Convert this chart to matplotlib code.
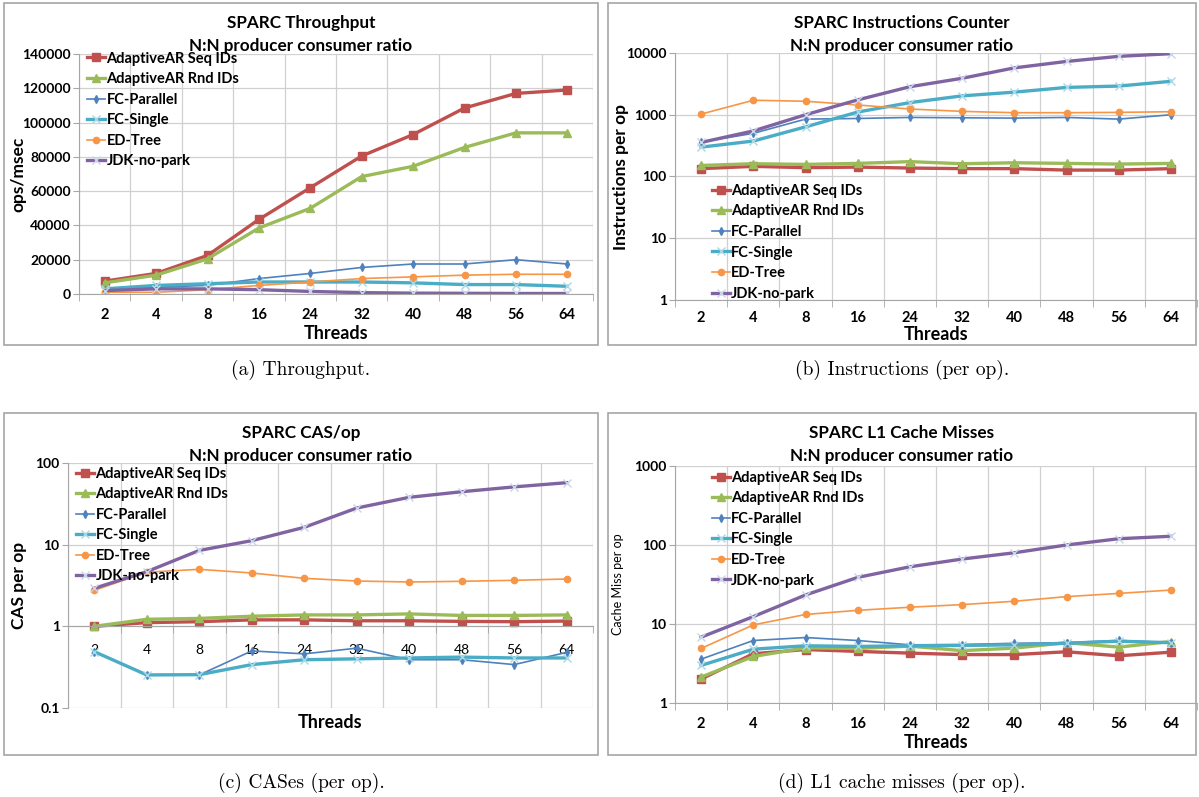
import matplotlib
matplotlib.use("Agg")
import matplotlib.pyplot as plt
from matplotlib.patches import Rectangle
from matplotlib.ticker import FixedLocator, NullFormatter

# categories / series
threads = ['2', '4', '8', '16', '24', '32', '40', '48', '56', '64']
names = ['AdaptiveAR Seq IDs', 'AdaptiveAR Rnd IDs', 'FC-Parallel',
         'FC-Single', 'ED-Tree', 'JDK-no-park']

# (a) throughput, ops/msec
thr_seq = [7500, 12000, 22500, 43500, 62000, 80500, 93000, 108500, 117000, 119000]
thr_rnd = [6500, 11000, 20500, 38500, 50000, 68500, 74500, 85500, 94000, 94000]
thr_fcp = [2500, 4000, 5000, 9000, 12000, 15500, 17500, 17500, 20000, 17500]
thr_fcs = [3000, 5000, 6000, 7000, 7000, 7000, 6500, 5500, 5500, 4500]
thr_edt = [1000, 1000, 2500, 5000, 7000, 9000, 10000, 11000, 11500, 11500]
thr_jdk = [2000, 3000, 3000, 2500, 1500, 800, 500, 400, 300, 300]

# (b) instructions per op
ins_seq = [134, 146, 139, 142, 137, 134, 134, 127, 127, 134]
ins_rnd = [151, 161, 157, 163, 174, 161, 167, 163, 159, 163]
ins_fcp = [361, 500, 850, 870, 905, 893, 882, 905, 850, 1000]
ins_fcs = [299, 375, 636, 1106, 1573, 2022, 2324, 2770, 2915, 3476]
ins_edt = [1025, 1717, 1654, 1440, 1239, 1134, 1079, 1079, 1092, 1120]
ins_jdk = [356, 547, 1000, 1740, 2843, 3893, 5740, 7300, 8820, 9750]

# (c) CAS per op
cas_seq = [1.0, 1.11, 1.14, 1.20, 1.20, 1.17, 1.17, 1.15, 1.14, 1.16]
cas_rnd = [1.0, 1.22, 1.25, 1.33, 1.38, 1.38, 1.42, 1.36, 1.36, 1.38]
cas_fcp = [0.49, 0.254, 0.254, 0.50, 0.46, 0.54, 0.39, 0.39, 0.34, 0.48]
cas_fcs = [0.49, 0.254, 0.256, 0.34, 0.39, 0.40, 0.41, 0.42, 0.41, 0.41]
cas_edt = [2.76, 4.6, 4.99, 4.5, 3.87, 3.59, 3.49, 3.56, 3.66, 3.8]
cas_jdk = [2.92, 4.67, 8.5, 11.2, 16.3, 28.1, 38, 44.5, 51, 57.4]

# (d) L1 cache misses per op
l1_seq = [2.01, 4.2, 4.75, 4.5, 4.28, 4.1, 4.1, 4.45, 3.96, 4.4]
l1_rnd = [2.13, 3.88, 4.99, 4.9, 5.25, 4.6, 4.95, 5.8, 5.1, 6.0]
l1_fcp = [3.59, 6.18, 6.74, 6.18, 5.45, 5.5, 5.7, 5.8, 6.2, 5.8]
l1_fcs = [2.99, 4.8, 5.3, 5.2, 5.3, 5.35, 5.45, 5.7, 6.06, 5.8]
l1_edt = [4.9, 9.74, 13.2, 14.9, 16.3, 17.6, 19.4, 22.2, 24.4, 26.9]
l1_jdk = [6.81, 12.4, 23.3, 38.9, 53, 66.4, 79.7, 100, 120, 129]

# line styles for the 6 series (Excel 2007 palette)
styles = [
    dict(color='#C0504D', lw=2.4, marker='s', ms=6),
    dict(color='#9BBB59', lw=2.4, marker='^', ms=6),
    dict(color='#4F81BD', lw=1.2, marker='d', ms=4),
    dict(color='#4BACC6', lw=2.4, marker='x', ms=6, mec='#A9D8E6', mew=1),
    dict(color='#F79646', lw=1.2, marker='o', ms=4.5),
    dict(color='#8064A2', lw=2.4, marker='x', ms=6, mec='#C8D6E8', mew=1),
]

plt.rcParams['font.family'] = ['Lato', 'DejaVu Sans']
W, H = 1199, 797
fig = plt.figure(figsize=(W / 100, H / 100), dpi=100)


def fx(px):
    return px / W


def fy(py):
    return 1 - py / H


def panel(box, area, title, series, ylabel, yticks, ylab_kw, leg_anchor,
          log=True, axis_at=None, tick_pad=10, threads_y=None):
    # outer grey frame
    x0, y0, x1, y1 = box
    fig.patches.append(Rectangle((fx(x0), fy(y1)), fx(x1 - x0), (y1 - y0) / H,
                                 transform=fig.transFigure, fill=False,
                                 ec='#A6A6A6', lw=1.2))
    l, t, r, b = area
    ax = fig.add_axes([fx(l), fy(b), fx(r - l), (b - t) / H])
    xs = range(len(threads))
    for vals, name, st in zip(series, names, styles):
        ax.plot(xs, vals, label=name, **st)
    if log:
        ax.set_yscale('log')
    ax.set_ylim(yticks[0], yticks[-1])
    ax.yaxis.set_major_locator(FixedLocator(yticks))
    ax.yaxis.set_minor_locator(FixedLocator([]))
    ax.set_yticklabels([('%g' % v) for v in yticks], fontsize=10, fontweight='bold')
    ax.set_xlim(-0.5, len(threads) - 0.5)
    ax.set_xticks(list(xs))
    ax.set_xticklabels(threads, fontsize=10.5, fontweight='bold')
    ax.xaxis.set_minor_locator(FixedLocator([i - 0.5 for i in range(len(threads) + 1)]))
    ax.xaxis.set_minor_formatter(NullFormatter())
    ax.tick_params(axis='x', which='major', length=0, pad=tick_pad)
    ax.tick_params(axis='x', which='minor', length=5, color='#A6A6A6')
    ax.tick_params(axis='y', length=4, color='#A6A6A6', pad=2)
    ax.grid(True, axis='y', which='major', color='#D0D0D0', lw=0.9)
    ax.grid(True, axis='x', which='minor', color='#D0D0D0', lw=0.9)
    ax.set_axisbelow(True)
    for s in ('top', 'right'):
        ax.spines[s].set_visible(False)
    ax.spines['left'].set_color('#A6A6A6')
    ax.spines['bottom'].set_color('#A6A6A6')
    if axis_at is not None:
        ax.spines['bottom'].set_position(('data', axis_at))
    cx = (x0 + x1) / 2
    fig.text(fx(cx), fy(y0 + 20), title[0], ha='center', va='center',
             fontsize=12.3, fontweight='bold')
    fig.text(fx(cx), fy(y0 + 43), title[1], ha='center', va='center',
             fontsize=12.3, fontweight='bold')
    fig.text(fx((l + r) / 2), fy(threads_y), 'Threads', ha='center', va='center',
             fontsize=13, fontweight='bold')
    fig.text(fx(ylab_kw['x']), fy((t + b) / 2), ylabel, ha='center', va='center',
             rotation=90, fontsize=ylab_kw['size'], fontweight=ylab_kw['weight'])
    ax.legend(loc='upper left', bbox_to_anchor=leg_anchor, frameon=False,
              prop=dict(size=10.5, weight='bold'), handlelength=1.25,
              handletextpad=0.1, labelspacing=0.45, borderaxespad=0, borderpad=0)
    return ax


sub = 'N:N producer consumer ratio'

panel((4, 3, 598, 345), (79, 54, 593, 294),
      ('SPARC Throughput', sub),
      [thr_seq, thr_rnd, thr_fcp, thr_fcs, thr_edt, thr_jdk],
      'ops/msec', [0, 20000, 40000, 60000, 80000, 100000, 120000, 140000],
      dict(x=18, size=12.5, weight='bold'), (0.015, 1.01), log=False,
      threads_y=334)

panel((608, 3, 1196, 345), (675, 53, 1197, 300),
      ('SPARC Instructions Counter', sub),
      [ins_seq, ins_rnd, ins_fcp, ins_fcs, ins_edt, ins_jdk],
      'Instructions per op', [1, 10, 100, 1000, 10000],
      dict(x=621, size=12.5, weight='bold'), (0.07, 0.47),
      tick_pad=8, threads_y=335)

panel((4, 413, 598, 755), (68, 463, 593, 708),
      ('SPARC CAS/op', sub),
      [cas_seq, cas_rnd, cas_fcp, cas_fcs, cas_edt, cas_jdk],
      'CAS per op', [0.1, 1, 10, 100],
      dict(x=19, size=12.5, weight='bold'), (0.015, 0.985), axis_at=1,
      tick_pad=13, threads_y=722)

panel((608, 413, 1196, 755), (675, 466, 1197, 703),
      ('SPARC L1 Cache Misses', sub),
      [l1_seq, l1_rnd, l1_fcp, l1_fcs, l1_edt, l1_jdk],
      'Cache Miss per op', [1, 10, 100, 1000],
      dict(x=618, size=9, weight='normal'), (0.07, 0.98),
      threads_y=743)

# sub-figure captions
cap_kw = dict(ha='center', va='center', fontsize=14, family=['cmr10', 'DejaVu Serif'])
fig.text(fx(301), fy(370), '(a) Throughput.', **cap_kw)
fig.text(fx(902), fy(370), '(b) Instructions (per op).', **cap_kw)
fig.text(fx(301), fy(783), '(c) CASes (per op).', **cap_kw)
fig.text(fx(902), fy(783), '(d) L1 cache misses (per op).', **cap_kw)

fig.savefig('out.png', dpi=100)
